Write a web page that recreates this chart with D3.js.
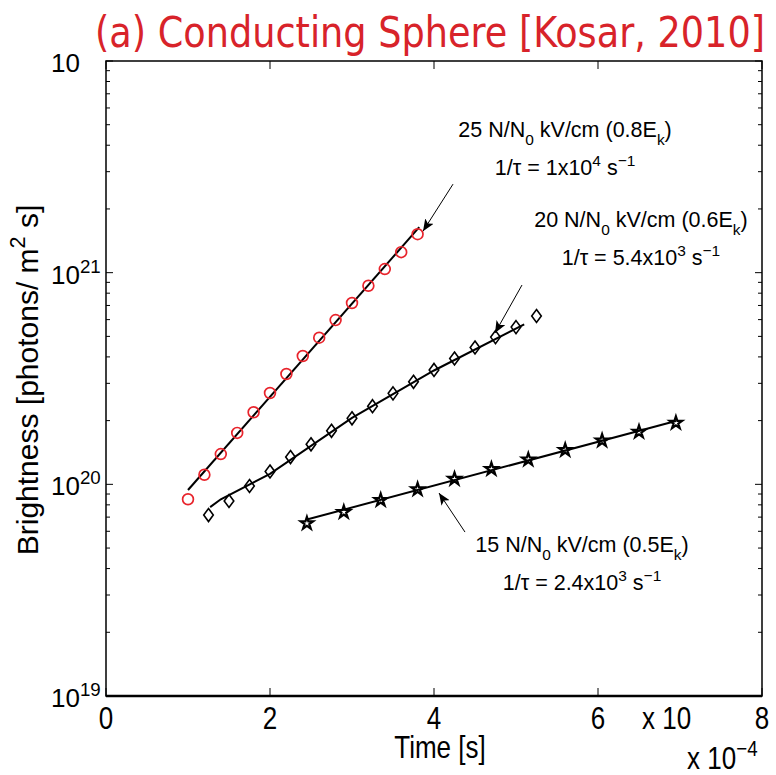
<!DOCTYPE html>
<html>
<head>
<meta charset="utf-8">
<script src="https://cdn.jsdelivr.net/npm/d3@7"></script>
<style>
  body { margin: 0; background: #fff; }
  text { font-family: "Liberation Sans", Arial, Helvetica, sans-serif; }
</style>
</head>
<body>
<div id="chart"></div>
<script>
let width = 776, height = 775;
let plotLeft = 106, plotRight = 762, plotTop = 61, plotBottom = 696;

// time is in units of 1e-4 s, brightness in photons/(m^2 s)
let timeCircle = [1.0, 1.2, 1.4, 1.6, 1.8, 2.0, 2.2, 2.4, 2.6, 2.8, 3.0, 3.2, 3.4, 3.6, 3.8];
let brightCircle = [8.5e19, 1.11e20, 1.39e20, 1.75e20, 2.19e20, 2.70e20, 3.32e20, 4.04e20,
    4.93e20, 5.97e20, 7.19e20, 8.67e20, 1.04e21, 1.25e21, 1.52e21];
let fitCircle = [[1.0, 9.4e19], [3.82, 1.64e21]];

let timeDiamond = [1.25, 1.5, 1.75, 2.0, 2.25, 2.5, 2.75, 3.0, 3.25, 3.5, 3.75, 4.0, 4.25, 4.5, 4.75, 5.0, 5.25];
let brightDiamond = [7.16e19, 8.34e19, 9.82e19, 1.15e20, 1.345e20, 1.545e20, 1.79e20, 2.05e20, 2.34e20,
    2.69e20, 3.05e20, 3.47e20, 3.93e20, 4.43e20, 4.96e20, 5.53e20, 6.24e20];
let fitDiamond = [[1.27, 7.8e19], [1.4, 8.5e19], [2.0, 1.12e20], [3.0, 2.06e20], [4.0, 3.45e20], [5.1, 5.7e20]];

let timeStar = [2.45, 2.9, 3.35, 3.8, 4.25, 4.7, 5.15, 5.6, 6.05, 6.5, 6.95];
let brightStar = [6.54e19, 7.40e19, 8.43e19, 9.47e19, 1.06e20, 1.18e20, 1.31e20, 1.45e20, 1.61e20, 1.77e20, 1.95e20];
let fitStar = [[2.45, 6.82e19], [6.95, 1.99e20]];

let xTicks = [0, 2, 4, 6, 8];
let yTicks = [1e19, 1e20, 1e21, 1e22];
let yTickExp = ['19', '20', '21', ''];

let notes = [
    {tip: [3.866, 1.57e21], tail: [4.232, 2.62e21], at: [5.598, 4.37e21],
     line1: [['25 N/N'], ['0', 'sub'], [' kV/cm (0.8E'], ['k', 'sub'], [')']],
     line2: [['1/\u03c4 = 1x10'], ['4', 'sup'], [' s'], ['\u22121', 'sup']]},
    {tip: [4.744, 5.19e20], tail: [5.073, 8.74e20], at: [6.524, 1.64e21],
     line1: [['20 N/N'], ['0', 'sub'], [' kV/cm (0.6E'], ['k', 'sub'], [')']],
     line2: [['1/\u03c4 = 5.4x10'], ['3', 'sup'], [' s'], ['\u22121', 'sup']]},
    {tip: [4.061, 9.10e19], tail: [4.378, 5.95e19], at: [5.805, 4.79e19],
     line1: [['15 N/N'], ['0', 'sub'], [' kV/cm (0.5E'], ['k', 'sub'], [')']],
     line2: [['1/\u03c4 = 2.4x10'], ['3', 'sup'], [' s'], ['\u22121', 'sup']]}
];

let svg = d3.select('#chart')
    .append('svg')
    .attr('width', width)
    .attr('height', height);

let x = d3.scaleLinear().domain([0, 8]).range([plotLeft, plotRight]);
let y = d3.scaleLog().domain([1e19, 1e22]).range([plotBottom, plotTop]);

// text with sub/superscripts via tspans
function rich(sel, parts, size) {
    let shift = 0;
    parts.forEach(p => {
        let target = p[1] === 'sub' ? 0.35 * size : p[1] === 'sup' ? -0.42 * size : 0;
        sel.append('tspan')
            .attr('dy', target - shift)
            .style('font-size', (p[1] ? size * 0.72 : size) + 'px')
            .text(p[0]);
        shift = target;
    });
}

// condensed-looking label: squeeze Liberation Sans horizontally
function narrowText(px, py, anchor) {
    return svg.append('text')
        .attr('transform', `translate(${px},${py}) scale(0.84,1)`)
        .attr('text-anchor', anchor)
        .style('font-size', '31px');
}

// title
svg.append('text')
    .attr('x', 95)
    .attr('y', 47)
    .attr('textLength', 670)
    .attr('lengthAdjust', 'spacingAndGlyphs')
    .style('font-family', '"DejaVu Sans Condensed", "Liberation Sans Narrow", sans-serif')
    .style('font-size', '42px')
    .attr('fill', '#d8232a')
    .text('(a) Conducting Sphere [Kosar, 2010]');

// ticks (inward, on both sides)
let minor = y.ticks().filter(v => yTicks.indexOf(v) < 0);
let tk = svg.append('g').attr('stroke', '#000').attr('stroke-width', 1);
tk.selectAll('.ymaj').data(yTicks).enter().append('path')
    .attr('d', d => `M${plotLeft},${y(d)}h7M${plotRight},${y(d)}h-7`);
tk.selectAll('.ymin').data(minor).enter().append('path')
    .attr('d', d => `M${plotLeft},${y(d)}h4M${plotRight},${y(d)}h-4`);
tk.selectAll('.xmaj').data(xTicks).enter().append('path')
    .attr('d', d => `M${x(d)},${plotBottom}v-8M${x(d)},${plotTop}v8`);

// box
svg.append('rect')
    .attr('x', plotLeft).attr('y', plotTop)
    .attr('width', plotRight - plotLeft).attr('height', plotBottom - plotTop)
    .attr('fill', 'none').attr('stroke', '#000').attr('stroke-width', 1.5);
svg.append('line')
    .attr('x1', plotLeft).attr('x2', plotRight)
    .attr('y1', plotBottom).attr('y2', plotBottom)
    .attr('stroke', '#000').attr('stroke-width', 2.5);

// y tick labels, centred on their ticks
yTicks.forEach((v, i) => {
    let t = svg.append('text')
        .attr('x', 51)
        .attr('y', y(v) + 11)
        .style('font-size', '26px');
    rich(t, yTickExp[i] ? [['10'], [yTickExp[i], 'sup']] : [['10']], 26);
});

// x tick labels
xTicks.forEach(v => {
    narrowText(x(v), plotBottom + 33, 'middle').text(v);
});
narrowText(642, plotBottom + 33, 'start').text('x 10');
let ex = narrowText(687, 769, 'start');
rich(ex, [['x 10'], ['\u22124', 'sup']], 31);

// axis titles
narrowText(x(4) + 6, plotBottom + 62, 'middle').text('Time [s]');

let yl = svg.append('text')
    .attr('transform', 'translate(38,380) rotate(-90)')
    .attr('text-anchor', 'middle');
rich(yl, [['Brightness [photons/ m'], ['2', 'sup'], [' s]']], 30);

// fit lines
let line = d3.line().x(d => x(d[0])).y(d => y(d[1]));
[fitCircle, fitDiamond, fitStar].forEach(f => {
    svg.append('path')
        .attr('d', line(f))
        .attr('fill', 'none')
        .attr('stroke', '#000')
        .attr('stroke-width', 2);
});

// markers
svg.selectAll('.circ').data(timeCircle).enter().append('circle')
    .attr('cx', d => x(d))
    .attr('cy', (d, i) => y(brightCircle[i]))
    .attr('r', 5.4)
    .attr('fill', 'none')
    .attr('stroke', '#e8232b')
    .attr('stroke-width', 1.7);

svg.selectAll('.diam').data(timeDiamond).enter().append('path')
    .attr('d', 'M0,-6.5L4.8,0L0,6.5L-4.8,0Z')
    .attr('transform', (d, i) => `translate(${x(d)},${y(brightDiamond[i])})`)
    .attr('fill', 'none')
    .attr('stroke', '#000')
    .attr('stroke-width', 1.6);

let star = d3.symbol().type(d3.symbolStar).size(48);
svg.selectAll('.star').data(timeStar).enter().append('path')
    .attr('d', star)
    .attr('transform', (d, i) => `translate(${x(d)},${y(brightStar[i])})`)
    .attr('fill', 'none')
    .attr('stroke', '#000')
    .attr('stroke-width', 2.2);

// annotations
svg.append('defs').append('marker')
    .attr('id', 'head')
    .attr('viewBox', '0 0 12 10')
    .attr('refX', 12).attr('refY', 5)
    .attr('markerWidth', 12).attr('markerHeight', 10)
    .attr('markerUnits', 'userSpaceOnUse')
    .attr('orient', 'auto')
    .append('path')
    .attr('d', 'M0,0L12,5L0,10L3,5Z')
    .attr('fill', '#000');

notes.forEach(n => {
    svg.append('line')
        .attr('x1', x(n.tail[0])).attr('y1', y(n.tail[1]))
        .attr('x2', x(n.tip[0])).attr('y2', y(n.tip[1]))
        .attr('stroke', '#000').attr('stroke-width', 1)
        .attr('marker-end', 'url(#head)');
    let t1 = svg.append('text')
        .attr('x', x(n.at[0])).attr('y', y(n.at[1]))
        .attr('text-anchor', 'middle');
    rich(t1, n.line1, 21.5);
    let t2 = svg.append('text')
        .attr('x', x(n.at[0])).attr('y', y(n.at[1]) + 38)
        .attr('text-anchor', 'middle');
    rich(t2, n.line2, 21.5);
});
</script>
</body>
</html>
